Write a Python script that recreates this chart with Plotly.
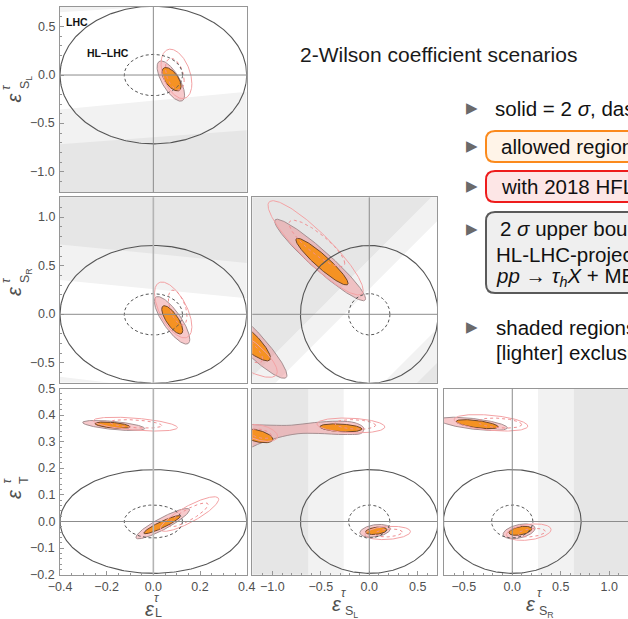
import numpy as np
import plotly.graph_objects as go

W, H = 628, 619
FONT = "Liberation Sans"


def px(x):
    return x / W


def py(y):
    return 1 - y / H


# ---------------- data ----------------
# axis ranges
RANGE_L = [-0.4, 0.4]
RANGE_SL = [-1.207, 0.702]
RANGE_SR = [-0.705, 1.206]
RANGE_T = [-0.2, 0.5]
RANGE_SR_X = [-0.704, 1.193]

# LHC (solid) / HL-LHC (dashed) 2-sigma bounds
LHC_BOUND = {"L": 0.40, "SL": 0.71, "SR": 0.71, "T": 0.195}
HL_BOUND = {"L": 0.125, "SL": 0.213, "SR": 0.213, "T": 0.062}

# contour ellipses: [cx, cy, half-width, half-height, correlation]
P1_PINK = [[0.075, -0.062, 0.059, 0.208, -0.7]]
P1_ORANGE = [[0.078, -0.043, 0.041, 0.121, -0.6]]
P1_RED = [[0.099, 0.012, 0.066, 0.255, -0.4]]
P1_RED_DASH = [[0.092, 0.009, 0.040, 0.164, -0.4]]

P2_PINK = [[0.080, -0.062, 0.076, 0.245, -0.8]]
P2_ORANGE = [[0.081, -0.057, 0.045, 0.146, -0.75]]
P2_RED = [[0.085, 0.045, 0.080, 0.288, -0.6]]
P2_RED_DASH = [[0.104, 0.070, 0.040, 0.180, -0.5]]

P3_PINK = [[-0.170, 0.361, 0.133, 0.019, -0.6], [0.040, -0.008, 0.115, 0.057, 0.9]]
P3_ORANGE = [[-0.175, 0.362, 0.075, 0.012, -0.5], [0.037, -0.012, 0.078, 0.034, 0.92]]
P3_RED = [[-0.077, 0.366, 0.180, 0.026, -0.5], [0.155, 0.028, 0.125, 0.065, 0.85]]
P3_RED_DASH = [[-0.075, 0.367, 0.111, 0.016, -0.4], [0.150, 0.025, 0.085, 0.045, 0.85]]

P4_PINK = [[-0.507, 0.560, 0.469, 0.420, -0.95], [-1.30, -0.20, 0.45, 0.46, -0.93]]
P4_ORANGE = [[-0.488, 0.543, 0.269, 0.241, -0.93], [-1.30, -0.22, 0.28, 0.26, -0.88]]
P4_RED = [[-0.554, 0.685, 0.491, 0.486, -0.9], [-1.35, -0.35, 0.40, 0.30, -0.8]]
P4_RED_DASH = [[-0.540, 0.730, 0.287, 0.240, -0.85], [-1.35, -0.30, 0.25, 0.20, -0.8]]

P5_PINK = [[0.060, -0.035, 0.157, 0.024, 0.3]]
P5_ORANGE = [[-0.293, 0.352, 0.217, 0.015, -0.3], [-1.16, 0.322, 0.165, 0.026, -0.5],
             [0.072, -0.035, 0.110, 0.014, 0.3]]
P5_RED = [[-0.190, 0.361, 0.350, 0.028, -0.2], [-1.12, 0.333, 0.175, 0.032, -0.4],
          [0.190, -0.043, 0.235, 0.025, 0.2]]
P5_RED_DASH = [[-0.145, 0.365, 0.210, 0.018, -0.2], [-1.12, 0.330, 0.110, 0.018, -0.4],
               [0.200, -0.043, 0.140, 0.015, 0.2]]
# elongated 2-sigma band in (eps_SL, eps_T)
P5_BAND_X = [-1.30, -1.014, -0.805, -0.562, -0.319, -0.146, -0.058,
             -0.076, -0.250, -0.527, -0.735, -0.944, -1.152, -1.30]
P5_BAND_Y = [0.366, 0.362, 0.362, 0.372, 0.377, 0.371, 0.352,
             0.333, 0.327, 0.331, 0.330, 0.315, 0.290, 0.262]

P6_PINK = [[-0.40, 0.367, 0.35, 0.025, -0.6], [0.070, -0.037, 0.165, 0.028, 0.4]]
P6_ORANGE = [[-0.362, 0.366, 0.217, 0.017, -0.6], [0.083, -0.035, 0.117, 0.017, 0.4]]
P6_RED = [[-0.22, 0.371, 0.38, 0.031, -0.4], [0.170, -0.040, 0.230, 0.031, 0.3]]
P6_RED_DASH = [[-0.13, 0.370, 0.226, 0.019, -0.3], [0.200, -0.042, 0.140, 0.016, 0.3]]

# excluded (shaded) regions: polygons in data units, dark / light
P1_DARK = [([-0.4, 0.4, 0.4, -0.4], [-0.714, -0.569, -1.3, -1.3])]
P1_LIGHT = [([-0.4, 0.4, 0.4, -0.4], [-0.355, -0.172, -1.3, -1.3]),
            ([-0.4, -0.03, -0.4], [0.648, 0.703, 0.703])]
P2_DARK = [([-0.4, 0.4, 0.4, -0.4], [0.72, 0.53, 1.3, 1.3])]
P2_LIGHT = [([-0.4, 0.4, 0.4, -0.4], [0.354, 0.165, 1.3, 1.3]),
            ([-0.4, -0.186, -0.4], [-0.643, -0.705, -0.705])]
P4_DARK = [([-1.365, 0.735, -1.365], [-0.8, 1.3, 1.3]),
           ([0.40, 0.8, 0.8], [-0.8, -0.4, -0.8])]
P4_LIGHT = [([-1.06, 0.8, 0.8, -1.365], [-0.8, 1.06, 1.365, -0.8]),
            ([0.05, 0.8, 0.8], [-0.8, -0.05, -0.8])]
P5_DARK = [([-1.3, -0.628, -0.628, -1.3], [-0.3, -0.3, 0.6, 0.6])]
P5_LIGHT = [([-0.628, -0.264, -0.264, -0.628], [-0.3, -0.3, 0.6, 0.6])]
P6_DARK = [([0.635, 1.3, 1.3, 0.635], [-0.3, -0.3, 0.6, 0.6])]
P6_LIGHT = [([0.265, 0.635, 0.635, 0.265], [-0.3, -0.3, 0.6, 0.6])]

# tick values
TICKS_L = [-0.4, -0.2, 0.0, 0.2, 0.4]
TICKS_SL_Y = [-1.0, -0.5, 0.0, 0.5]
TICKS_SR_Y = [-0.5, 0.0, 0.5, 1.0]
TICKS_T = [-0.2, -0.1, 0.0, 0.1, 0.2, 0.3, 0.4, 0.5]
TICKS_SL_X = [-1.0, -0.5, 0.0, 0.5]
TICKS_SR_X = [-0.5, 0.0, 0.5, 1.0]

# ---------------- styles ----------------
C_DARK = "#e6e6e6"
C_LIGHT = "#f2f2f2"
C_PINK = "rgba(236,120,126,0.40)"
C_PINK_LINE = "#a58f91"
C_ORANGE = "#f59223"
C_ORANGE_LINE = "#70462a"
C_RED = "#f3a2a4"
C_LHC = "#555555"
C_FRAME = "#969696"
C_TICK = "#505050"

COL_X = [(60, 246.7), (252.3, 437.3), (444, 628)]
ROW_Y = [(7, 192), (197.3, 382.7), (388.5, 574.7)]

PANELS = [
    dict(n=1, col=0, row=0, xv="L", yv="SL", pink=P1_PINK, orange=P1_ORANGE, red=P1_RED,
         red_dash=P1_RED_DASH, dark=P1_DARK, light=P1_LIGHT),
    dict(n=2, col=0, row=1, xv="L", yv="SR", pink=P2_PINK, orange=P2_ORANGE, red=P2_RED,
         red_dash=P2_RED_DASH, dark=P2_DARK, light=P2_LIGHT),
    dict(n=3, col=0, row=2, xv="L", yv="T", pink=P3_PINK, orange=P3_ORANGE, red=P3_RED,
         red_dash=P3_RED_DASH, dark=[], light=[]),
    dict(n=4, col=1, row=1, xv="SL", yv="SR", pink=P4_PINK, orange=P4_ORANGE, red=P4_RED,
         red_dash=P4_RED_DASH, dark=P4_DARK, light=P4_LIGHT),
    dict(n=5, col=1, row=2, xv="SL", yv="T", pink=P5_PINK, orange=P5_ORANGE, red=P5_RED,
         red_dash=P5_RED_DASH, dark=P5_DARK, light=P5_LIGHT),
    dict(n=6, col=2, row=2, xv="SR", yv="T", pink=P6_PINK, orange=P6_ORANGE, red=P6_RED,
         red_dash=P6_RED_DASH, dark=P6_DARK, light=P6_LIGHT),
]


def ellipse(cx, cy, rx, ry, rho, n=200):
    t = np.linspace(0, 2 * np.pi, n)
    s = np.sqrt(max(0.0, 1 - rho ** 2))
    return cx + rx * np.cos(t), cy + ry * (rho * np.cos(t) + s * np.sin(t))


fig = go.Figure()

for p in PANELS:
    xa = "x" if p["n"] == 1 else f"x{p['n']}"
    ya = "y" if p["n"] == 1 else f"y{p['n']}"
    ax = dict(xaxis=xa, yaxis=ya, showlegend=False, hoverinfo="skip")

    for xs, ys in p["light"]:
        fig.add_trace(go.Scatter(x=xs, y=ys, fill="toself", fillcolor=C_LIGHT,
                                 mode="none", **ax))
    for xs, ys in p["dark"]:
        fig.add_trace(go.Scatter(x=xs, y=ys, fill="toself", fillcolor=C_DARK,
                                 mode="none", **ax))

    # 2-sigma HFLAV regions (pink)
    for e in p["pink"]:
        ex, ey = ellipse(*e)
        fig.add_trace(go.Scatter(x=ex, y=ey, fill="toself", fillcolor=C_PINK, mode="lines",
                                 line=dict(color=C_PINK_LINE, width=1), **ax))
    if p["n"] == 5:
        fig.add_trace(go.Scatter(x=P5_BAND_X, y=P5_BAND_Y, fill="toself", fillcolor=C_PINK,
                                 mode="lines", line=dict(color=C_PINK_LINE, width=1,
                                                         shape="spline"), **ax))
    # allowed regions (orange)
    for e in p["orange"]:
        ex, ey = ellipse(*e)
        fig.add_trace(go.Scatter(x=ex, y=ey, fill="toself", fillcolor=C_ORANGE, mode="lines",
                                 line=dict(color=C_ORANGE_LINE, width=1), **ax))
    # light red contours (solid 2 sigma, dashed 1 sigma)
    for e in p["red"]:
        ex, ey = ellipse(*e)
        fig.add_trace(go.Scatter(x=ex, y=ey, mode="lines",
                                 line=dict(color=C_RED, width=1), **ax))
    for e in p["red_dash"]:
        ex, ey = ellipse(*e)
        fig.add_trace(go.Scatter(x=ex, y=ey, mode="lines",
                                 line=dict(color="#ef8f92", width=1, dash="3px,3px"), **ax))
    # LHC / HL-LHC bounds
    ex, ey = ellipse(0, 0, LHC_BOUND[p["xv"]], LHC_BOUND[p["yv"]], 0.0, 300)
    fig.add_trace(go.Scatter(x=ex, y=ey, mode="lines", line=dict(color=C_LHC, width=1.1), **ax))
    ex, ey = ellipse(0, 0, HL_BOUND[p["xv"]], HL_BOUND[p["yv"]], 0.0, 300)
    fig.add_trace(go.Scatter(x=ex, y=ey, mode="lines",
                             line=dict(color=C_LHC, width=1, dash="3px,2.5px"), **ax))

    # zero axes
    vcol, vw = ("#b4b4b4", 1.6) if p["n"] in (2, 3) else ("#8c8c8c", 1)
    fig.add_shape(type="line", xref=xa, yref=f"{ya} domain", x0=0, x1=0, y0=0, y1=1,
                  line=dict(color=vcol, width=vw), layer="above")
    fig.add_shape(type="line", xref=f"{xa} domain", yref=ya, x0=0, x1=1, y0=0, y1=0,
                  line=dict(color="#8c8c8c", width=1), layer="above")

tickfont = dict(family=FONT, size=12.5, color=C_TICK)
RANGES = {"L": RANGE_L, "SL": RANGE_SL, "SR": RANGE_SR, "T": RANGE_T}

annotations = []


def add_text(x, y, text, size, color="#111", xanchor="left", angle=0, family=FONT):
    annotations.append(dict(x=px(x), y=py(y), xref="paper", yref="paper", text=text,
                            showarrow=False, xanchor=xanchor, yanchor="middle",
                            textangle=angle, font=dict(family=family, size=size, color=color)))


layout_axes = {}
for p in PANELS:
    n = p["n"]
    xk = "xaxis" if n == 1 else f"xaxis{n}"
    yk = "yaxis" if n == 1 else f"yaxis{n}"
    xa = "x" if n == 1 else f"x{n}"
    ya = "y" if n == 1 else f"y{n}"
    c0, c1 = COL_X[p["col"]]
    r0, r1 = ROW_Y[p["row"]]
    xr = RANGE_SR_X if n == 6 else RANGES[p["xv"]]
    yr = RANGES[p["yv"]]
    base = dict(showline=True, linecolor=C_FRAME, linewidth=1, showgrid=False, zeroline=False,
                tickfont=tickfont, tickformat=".1f", fixedrange=True, automargin=False)
    xlab = p["row"] == 2
    ylab = p["col"] == 0
    xticks = {"L": TICKS_L, "SL": TICKS_SL_X, "SR": TICKS_SR_X}[p["xv"]]
    yticks = {"SL": TICKS_SL_Y, "SR": TICKS_SR_Y, "T": TICKS_T}[p["yv"]]
    xminor = {"L": 0.05, "SL": 0.1, "SR": 0.1}[p["xv"]]
    yminor = {"SL": 0.1, "SR": 0.1, "T": 0.02}[p["yv"]]
    xd = dict(base, domain=[px(c0), px(c1)], range=xr, anchor=ya, mirror=True,
              showticklabels=xlab, tickvals=xticks)
    yd = dict(base, domain=[py(r1), py(r0)], range=yr, anchor=xa, mirror=(n != 6),
              showticklabels=False, tickvals=yticks)
    if xlab:
        xd.update(ticks="inside", ticklen=4, tickcolor=C_FRAME,
                  minor=dict(ticks="inside", ticklen=2, tickcolor=C_FRAME,
                             tickvals=list(np.round(np.arange(xr[0], xr[1], xminor) /
                                                    xminor) * xminor)))
    else:
        xd.update(ticks="")
    if ylab:
        yd.update(ticks="inside", ticklen=4, tickcolor=C_FRAME,
                  minor=dict(ticks="inside", ticklen=2, tickcolor=C_FRAME,
                             tickvals=list(np.round(np.arange(yr[0], yr[1], yminor) /
                                                    yminor) * yminor)))
        # y tick labels placed on the axis scale, right-aligned just left of the frame
        for v in yticks:
            annotations.append(dict(x=px(c0 - 2.5), y=v, xref="paper", yref=ya,
                                    text=f"{v:.1f}".replace("-", "\u2212"), showarrow=False,
                                    xanchor="right", yanchor="middle", font=tickfont))
    else:
        yd.update(ticks="")
    layout_axes[xk] = xd
    layout_axes[yk] = yd


# axis titles (x)
XT = [(149.5, 609, 157, 598, 158, 613, "L"),
      (336.5, 603.5, 343.5, 593, 351, 612, "S<sub>L</sub>"),
      (530.5, 603.5, 539.5, 593, 546, 612, "S<sub>R</sub>")]
for ex_, ey_, tx, ty, sx, sy, sub in XT:
    add_text(ex_, ey_, "<i>ε</i>", 20, C_TICK, "center")
    add_text(tx, ty, "<i>τ</i>", 12, C_TICK, "center")
    add_text(sx, sy, sub, 12.5, C_TICK, "center")

# axis titles (y, rotated)
YT = [(13.5, 98, 6, 87, 26, 83, "S<sub>L</sub>"),
      (14, 291, 6, 280, 26, 276, "S<sub>R</sub>"),
      (14, 494, 6.5, 481, 24, 480, "T")]
for ex_, ey_, tx, ty, sx, sy, sub in YT:
    add_text(ex_, ey_, "<i>ε</i>", 20, C_TICK, "center", -90)
    add_text(tx, ty, "<i>τ</i>", 12, C_TICK, "center", -90)
    add_text(sx, sy, sub, 12.5, C_TICK, "center", -90)

# LHC labels
add_text(64, 21.5, "<b>LHC</b>", 10.5, "#111")
add_text(85, 52.5, "<b>HL–LHC</b>", 10.5, "#111")

# right-hand text
add_text(298, 55, "2-Wilson coefficient scenarios", 21, "#1a1a1a")
for yb in (108, 146, 186, 229, 327):
    add_text(472, yb, "▶", 15, "#6a6a6a", "center", family="DejaVu Sans")
TS = 20.5
add_text(493, 108, "solid = 2 <i>σ</i>, dashed = 1 <i>σ</i>", TS, "#111")
add_text(499, 146, "allowed regions", TS, "#111")
add_text(499, 186, "with 2018 HFLAV averages", TS, "#111")
add_text(498, 229, "2 <i>σ</i> upper bounds from", TS, "#111")
add_text(494, 254, "HL-LHC-projected", TS, "#111")
add_text(494, 277, "<i>pp</i> → <i>τ<sub>h</sub>X</i> + MET", TS, "#111")
add_text(494, 327, "shaded regions: excluded", TS, "#111")
add_text(494, 352, "[lighter] exclusion", TS, "#111")


def rbox(x0, y0, x1, y1, r):
    X = lambda v: f"{px(v):.5f}"
    Y = lambda v: f"{py(v):.5f}"
    return (f"M {X(x0 + r)},{Y(y0)} L {X(x1 - r)},{Y(y0)} Q {X(x1)},{Y(y0)} {X(x1)},{Y(y0 + r)} "
            f"L {X(x1)},{Y(y1 - r)} Q {X(x1)},{Y(y1)} {X(x1 - r)},{Y(y1)} "
            f"L {X(x0 + r)},{Y(y1)} Q {X(x0)},{Y(y1)} {X(x0)},{Y(y1 - r)} "
            f"L {X(x0)},{Y(y0 + r)} Q {X(x0)},{Y(y0)} {X(x0 + r)},{Y(y0)} Z")


boxes = [
    (486, 131, 780, 162, "#fb8a1c", "#fff4e8"),
    (486, 171, 780, 202, "#ee1c1c", "#fde6e6"),
    (486, 212, 780, 293, "#5a5a5a", "#efefef"),
]
for x0, y0, x1, y1, lc, fc in boxes:
    fig.add_shape(type="path", xref="paper", yref="paper", path=rbox(x0, y0, x1, y1, 9),
                  line=dict(color=lc, width=2), fillcolor=fc, layer="below")

fig.update_layout(width=W, height=H,
                  margin=dict(l=0, r=0, t=0, b=0, pad=0, autoexpand=False),
                  paper_bgcolor="white", plot_bgcolor="white", showlegend=False,
                  annotations=annotations, font=dict(family=FONT), **layout_axes)

fig.write_html("out.html", config={"displayModeBar": False})
